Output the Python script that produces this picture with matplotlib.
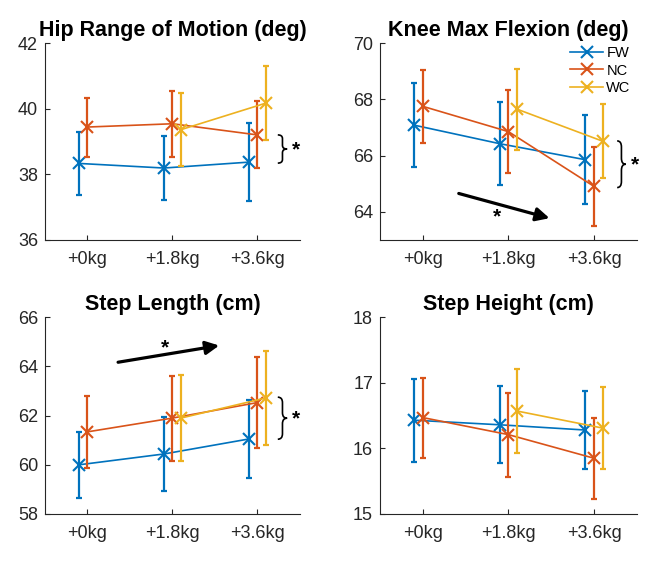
import numpy as np
import matplotlib
matplotlib.use("Agg")
import matplotlib.pyplot as plt
from matplotlib.path import Path
from matplotlib.patches import PathPatch

plt.rcParams['font.family'] = ['Liberation Sans', 'DejaVu Sans']

loads = ['+0kg', '+1.8kg', '+3.6kg']
groups = ['FW', 'NC', 'WC']
colors = ['#0072BD', '#D95319', '#EDB120']
# WC was only tested with added load
wc_pos = [2, 3]

# hip range of motion (deg)
hip_fw = [38.33, 38.19, 38.37]
hip_fw_err = [0.95, 0.98, 1.20]
hip_nc = [39.44, 39.54, 39.20]
hip_nc_err = [0.90, 1.00, 1.02]
hip_wc = [39.36, 40.17]
hip_wc_err = [1.12, 1.14]

# knee max flexion (deg)
knee_fw = [67.08, 66.42, 65.85]
knee_fw_err = [1.50, 1.48, 1.58]
knee_nc = [67.75, 66.85, 64.90]
knee_nc_err = [1.31, 1.47, 1.40]
knee_wc = [67.65, 66.51]
knee_wc_err = [1.44, 1.31]

# step length (cm)
sl_fw = [60.00, 60.44, 61.05]
sl_fw_err = [1.35, 1.49, 1.60]
sl_nc = [61.34, 61.90, 62.53]
sl_nc_err = [1.46, 1.73, 1.86]
sl_wc = [61.90, 62.72]
sl_wc_err = [1.74, 1.91]

# step height (cm)
sh_fw = [16.43, 16.36, 16.28]
sh_fw_err = [0.63, 0.59, 0.60]
sh_nc = [16.47, 16.21, 15.85]
sh_nc_err = [0.61, 0.64, 0.62]
sh_wc = [16.57, 16.31]
sh_wc_err = [0.64, 0.63]


def brace(ax, x, y0, y1, w):
    # curly brace "}" drawn in data coords
    ym = (y0 + y1) / 2
    q = (y1 - y0) * 0.13
    verts = [(x, y1), (x + w / 2, y1), (x + w / 2, y1 - q),
             (x + w / 2, ym + q),
             (x + w / 2, ym), (x + w, ym),
             (x + w / 2, ym), (x + w / 2, ym - q),
             (x + w / 2, y0 + q),
             (x + w / 2, y0), (x, y0)]
    codes = [Path.MOVETO, Path.CURVE3, Path.CURVE3,
             Path.LINETO,
             Path.CURVE3, Path.CURVE3,
             Path.CURVE3, Path.CURVE3,
             Path.LINETO,
             Path.CURVE3, Path.CURVE3]
    ax.add_patch(PathPatch(Path(verts, codes), fill=False, lw=1.2,
                           color='black', clip_on=False))


def panel(ax, title, fw, fw_err, nc, nc_err, wc, wc_err, ylim, yticks):
    x = np.arange(1, 4)
    series = [(x - 0.1, fw, fw_err), (x, nc, nc_err),
              (np.array(wc_pos) + 0.1, wc, wc_err)]
    handles = []
    for (xs, ys, es), c, g in zip(series, colors, groups):
        ax.errorbar(xs, ys, yerr=es, fmt='none', ecolor=c, elinewidth=1.6,
                    capsize=2.5, capthick=1.6)
        h, = ax.plot(xs, ys, color=c, lw=1.2, marker='x', markersize=9,
                     markeredgewidth=1.5, label=g)
        handles.append(h)
    ax.set_xlim(0.5, 3.5)
    ax.set_ylim(*ylim)
    ax.set_yticks(yticks)
    ax.set_xticks(x)
    ax.set_xticklabels(loads)
    ax.set_title(title, fontsize=15.5, fontweight='bold', pad=5)
    ax.spines['top'].set_visible(False)
    ax.spines['right'].set_visible(False)
    for s in ['left', 'bottom']:
        ax.spines[s].set_color('#262626')
    ax.tick_params(direction='in', length=3.5, labelsize=13,
                   colors='#262626', pad=5)
    ax.tick_params(axis='x', pad=8)
    return handles


fig = plt.figure(figsize=(6.62, 5.67), dpi=100)
ax1 = fig.add_axes([0.068, 0.577, 0.385, 0.347])
ax2 = fig.add_axes([0.574, 0.577, 0.388, 0.347])
ax3 = fig.add_axes([0.068, 0.0935, 0.385, 0.347])
ax4 = fig.add_axes([0.574, 0.0935, 0.388, 0.347])

panel(ax1, 'Hip Range of Motion (deg)', hip_fw, hip_fw_err, hip_nc, hip_nc_err,
      hip_wc, hip_wc_err, (36, 42), [36, 38, 40, 42])
hs = panel(ax2, 'Knee Max Flexion (deg)', knee_fw, knee_fw_err, knee_nc,
           knee_nc_err, knee_wc, knee_wc_err, (63, 70), [64, 66, 68, 70])
panel(ax3, 'Step Length (cm)', sl_fw, sl_fw_err, sl_nc, sl_nc_err,
      sl_wc, sl_wc_err, (58, 66), [58, 60, 62, 64, 66])
panel(ax4, 'Step Height (cm)', sh_fw, sh_fw_err, sh_nc, sh_nc_err,
      sh_wc, sh_wc_err, (15, 18), [15, 16, 17, 18])

ax2.legend(handles=hs, loc='upper right', bbox_to_anchor=(1.01, 1.03),
           frameon=False, fontsize=10.5, handlelength=2.3, handletextpad=0.2,
           labelspacing=0.25, borderaxespad=0.2)

# group effect braces
brace(ax1, 3.24, 38.34, 39.2, 0.11)
ax1.text(3.45, 38.74, '*', fontsize=15, fontweight='bold', ha='center', va='center')
brace(ax2, 3.27, 64.86, 66.52, 0.1)
ax2.text(3.48, 65.67, '*', fontsize=15, fontweight='bold', ha='center', va='center')
brace(ax3, 3.24, 61.04, 62.75, 0.11)
ax3.text(3.45, 61.85, '*', fontsize=15, fontweight='bold', ha='center', va='center')

# load effect arrows
arrow = dict(arrowstyle='-|>', lw=2.3, color='black', mutation_scale=20,
             shrinkA=0, shrinkB=0)
ax2.annotate('', xy=(2.48, 63.77), xytext=(1.42, 64.65), arrowprops=arrow)
ax2.text(1.87, 63.8, '*', fontsize=15, fontweight='bold', ha='center', va='center')
ax3.annotate('', xy=(2.55, 64.85), xytext=(1.36, 64.17), arrowprops=arrow)
ax3.text(1.91, 64.75, '*', fontsize=15, fontweight='bold', ha='center', va='center')

fig.savefig('out.png', dpi=100)
